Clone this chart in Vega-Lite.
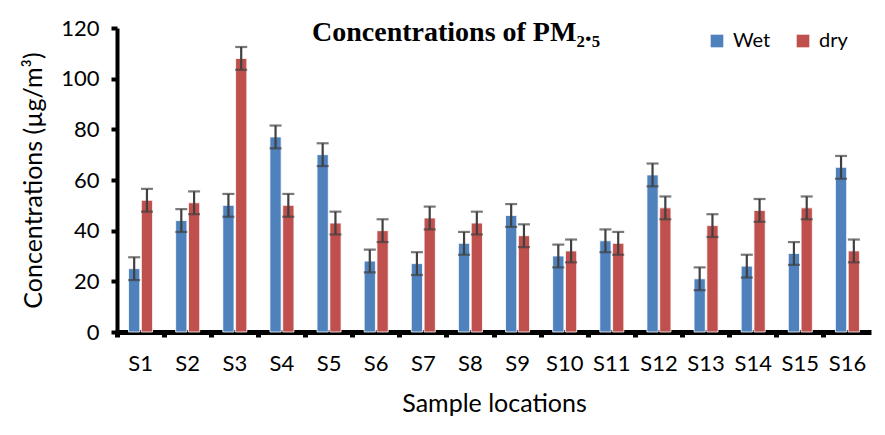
{
  "$schema": "https://vega.github.io/schema/vega-lite/v6.json",
  "autosize": {"type": "none"},
  "width": 754,
  "height": 304,
  "padding": {"left": 117, "top": 28, "right": 14, "bottom": 103},
  "background": "white",
  "title": {
    "text": "Concentrations of PM₂.₅",
    "font": "Liberation Serif",
    "fontWeight": "bold",
    "fontSize": 28,
    "color": "black",
    "anchor": "start",
    "frame": "group",
    "baseline": "alphabetic",
    "offset": -14,
    "dy": 38,
    "dx": 195
  },
  "data": {
    "values": [
      {"loc": "S1", "season": "Wet", "value": 25, "lo": 20.5, "hi": 29.5},
      {"loc": "S1", "season": "dry", "value": 52, "lo": 47.5, "hi": 56.5},
      {"loc": "S2", "season": "Wet", "value": 44, "lo": 39.5, "hi": 48.5},
      {"loc": "S2", "season": "dry", "value": 51, "lo": 46.5, "hi": 55.5},
      {"loc": "S3", "season": "Wet", "value": 50, "lo": 45.5, "hi": 54.5},
      {"loc": "S3", "season": "dry", "value": 108, "lo": 103.5, "hi": 112.5},
      {"loc": "S4", "season": "Wet", "value": 77, "lo": 72.5, "hi": 81.5},
      {"loc": "S4", "season": "dry", "value": 50, "lo": 45.5, "hi": 54.5},
      {"loc": "S5", "season": "Wet", "value": 70, "lo": 65.5, "hi": 74.5},
      {"loc": "S5", "season": "dry", "value": 43, "lo": 38.5, "hi": 47.5},
      {"loc": "S6", "season": "Wet", "value": 28, "lo": 23.5, "hi": 32.5},
      {"loc": "S6", "season": "dry", "value": 40, "lo": 35.5, "hi": 44.5},
      {"loc": "S7", "season": "Wet", "value": 27, "lo": 22.5, "hi": 31.5},
      {"loc": "S7", "season": "dry", "value": 45, "lo": 40.5, "hi": 49.5},
      {"loc": "S8", "season": "Wet", "value": 35, "lo": 30.5, "hi": 39.5},
      {"loc": "S8", "season": "dry", "value": 43, "lo": 38.5, "hi": 47.5},
      {"loc": "S9", "season": "Wet", "value": 46, "lo": 41.5, "hi": 50.5},
      {"loc": "S9", "season": "dry", "value": 38, "lo": 33.5, "hi": 42.5},
      {"loc": "S10", "season": "Wet", "value": 30, "lo": 25.5, "hi": 34.5},
      {"loc": "S10", "season": "dry", "value": 32, "lo": 27.5, "hi": 36.5},
      {"loc": "S11", "season": "Wet", "value": 36, "lo": 31.5, "hi": 40.5},
      {"loc": "S11", "season": "dry", "value": 35, "lo": 30.5, "hi": 39.5},
      {"loc": "S12", "season": "Wet", "value": 62, "lo": 57.5, "hi": 66.5},
      {"loc": "S12", "season": "dry", "value": 49, "lo": 44.5, "hi": 53.5},
      {"loc": "S13", "season": "Wet", "value": 21, "lo": 16.5, "hi": 25.5},
      {"loc": "S13", "season": "dry", "value": 42, "lo": 37.5, "hi": 46.5},
      {"loc": "S14", "season": "Wet", "value": 26, "lo": 21.5, "hi": 30.5},
      {"loc": "S14", "season": "dry", "value": 48, "lo": 43.5, "hi": 52.5},
      {"loc": "S15", "season": "Wet", "value": 31, "lo": 26.5, "hi": 35.5},
      {"loc": "S15", "season": "dry", "value": 49, "lo": 44.5, "hi": 53.5},
      {"loc": "S16", "season": "Wet", "value": 65, "lo": 60.5, "hi": 69.5},
      {"loc": "S16", "season": "dry", "value": 32, "lo": 27.5, "hi": 36.5}
    ]
  },
  "encoding": {
    "x": {
      "field": "loc",
      "type": "nominal",
      "sort": null,
      "scale": {"paddingInner": 0.49, "paddingOuter": 0.245},
      "axis": {
        "title": "Sample locations",
        "titleFont": "Lato",
        "titleFontSize": 25,
        "titleFontWeight": "normal",
        "titleColor": "black",
        "titlePadding": 17,
        "labelFont": "Lato",
        "labelFontSize": 22,
        "labelColor": "black",
        "labelAngle": 0,
        "labelPadding": 16,
        "domainColor": "black",
        "domainWidth": 5,
        "tickColor": "black",
        "tickWidth": 5,
        "tickSize": 5,
        "bandPosition": -0.48
      }
    },
    "xOffset": {
      "field": "season",
      "type": "nominal",
      "sort": ["Wet", "dry"],
      "scale": {"paddingInner": 0.12}
    }
  },
  "layer": [
    {
      "mark": {"type": "bar", "stroke": "white", "strokeWidth": 0.8},
      "encoding": {
        "y": {
          "field": "value",
          "type": "quantitative",
          "scale": {"domain": [0, 120]},
          "axis": {
            "title": "Concentrations (µg/m³)",
            "titleFont": "Lato",
            "titleFontSize": 25,
            "titleFontWeight": "normal",
            "titleColor": "black",
            "titlePadding": 14,
            "labelFont": "Lato",
            "labelFontSize": 22,
            "labelColor": "black",
            "labelPadding": 12,
            "values": [0, 20, 40, 60, 80, 100, 120],
            "grid": false,
            "domainColor": "black",
            "domainWidth": 4,
            "tickColor": "black",
            "tickWidth": 4,
            "tickSize": 6
          }
        },
        "color": {
          "field": "season",
          "type": "nominal",
          "sort": ["Wet", "dry"],
          "scale": {"domain": ["Wet", "dry"], "range": ["#4F81BD", "#C0504D"]},
          "legend": {
            "title": null,
            "orient": "none",
            "legendX": 590,
            "legendY": 3,
            "direction": "horizontal",
            "symbolType": "square",
            "symbolSize": 160,
            "symbolStrokeWidth": 0,
            "labelFont": "Lato",
            "labelFontSize": 20,
            "labelColor": "black",
            "labelOffset": 6,
            "columnPadding": 22,
            "padding": 0
          }
        }
      }
    },
    {
      "mark": {"type": "rule", "color": "#404040", "strokeWidth": 2.2},
      "encoding": {
        "y": {"field": "lo", "type": "quantitative"},
        "y2": {"field": "hi"}
      }
    },
    {
      "mark": {"type": "tick", "color": "#404040", "thickness": 2.2, "size": 12},
      "encoding": {"y": {"field": "lo", "type": "quantitative"}}
    },
    {
      "mark": {"type": "tick", "color": "#404040", "thickness": 2.2, "size": 12},
      "encoding": {"y": {"field": "hi", "type": "quantitative"}}
    }
  ],
  "config": {"view": {"stroke": null}}
}
